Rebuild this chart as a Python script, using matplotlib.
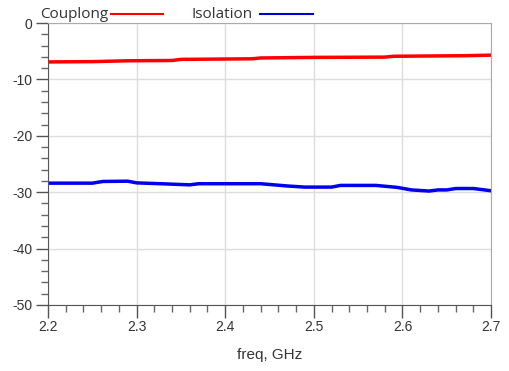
import numpy as np
import matplotlib.pyplot as plt
from matplotlib.ticker import MultipleLocator

plt.rcParams["font.family"] = ["Liberation Sans", "DejaVu Sans"]
plt.rcParams["axes.unicode_minus"] = False

# Coupling (red) and isolation (blue), dB vs freq in GHz
freq_c = [2.20, 2.25, 2.29, 2.34, 2.35, 2.43, 2.44, 2.50, 2.58, 2.59, 2.67, 2.70]
couplong = [-6.9, -6.85, -6.7, -6.65, -6.45, -6.35, -6.2, -6.1, -6.05, -5.9, -5.8, -5.7]

freq_i = [2.20, 2.25, 2.262, 2.29, 2.30, 2.327, 2.36, 2.37, 2.44, 2.47, 2.49, 2.52,
          2.53, 2.57, 2.594, 2.61, 2.63, 2.64, 2.65, 2.66, 2.68, 2.70]
isolation = [-28.4, -28.4, -28.1, -28.05, -28.35, -28.5, -28.7, -28.5, -28.5, -28.9,
             -29.1, -29.1, -28.8, -28.8, -29.15, -29.6, -29.8, -29.6, -29.6, -29.35,
             -29.35, -29.75]

fig = plt.figure(figsize=(5.1, 3.71), dpi=100)
ax = fig.add_axes([0.094, 0.178, 0.869, 0.760])

ax.plot(freq_c, couplong, color="#ff0000", lw=2.5)
ax.plot(freq_i, isolation, color="#0000ee", lw=2.5)

ax.set_xlim(2.2, 2.7)
ax.set_ylim(-50, 0)
ax.xaxis.set_major_locator(MultipleLocator(0.1))
ax.xaxis.set_minor_locator(MultipleLocator(0.02))
ax.yaxis.set_major_locator(MultipleLocator(10))
ax.yaxis.set_minor_locator(MultipleLocator(2))
ax.xaxis.set_major_formatter(lambda v, pos: f"{v:.1f}")

ax.grid(True, which="major", color="#dddddd", lw=1)
for s in ["top", "right"]:
    ax.spines[s].set_color("#aaaaaa")
for s in ["left", "bottom"]:
    ax.spines[s].set_color("#555555")

ax.tick_params(which="major", length=9, width=1, color="#555555", labelsize=10,
               labelcolor="#333333", pad=2)
ax.tick_params(which="minor", length=5, width=1, color="#666666")

ax.set_xlabel("freq, GHz", fontsize=11, color="#333333", labelpad=10)

# legend above the plot
fig.text(0.078, 0.962, "Couplong", fontfamily="Open Sans", fontsize=11, color="#333333", va="center")
fig.add_artist(plt.Line2D([0.218, 0.320], [0.962, 0.962], color="#ff0000", lw=1.5))
fig.text(0.376, 0.962, "Isolation", fontfamily="Open Sans", fontsize=11, color="#333333", va="center")
fig.add_artist(plt.Line2D([0.510, 0.614], [0.962, 0.962], color="#0000cc", lw=1.5))

fig.savefig("out.png", dpi=100)
